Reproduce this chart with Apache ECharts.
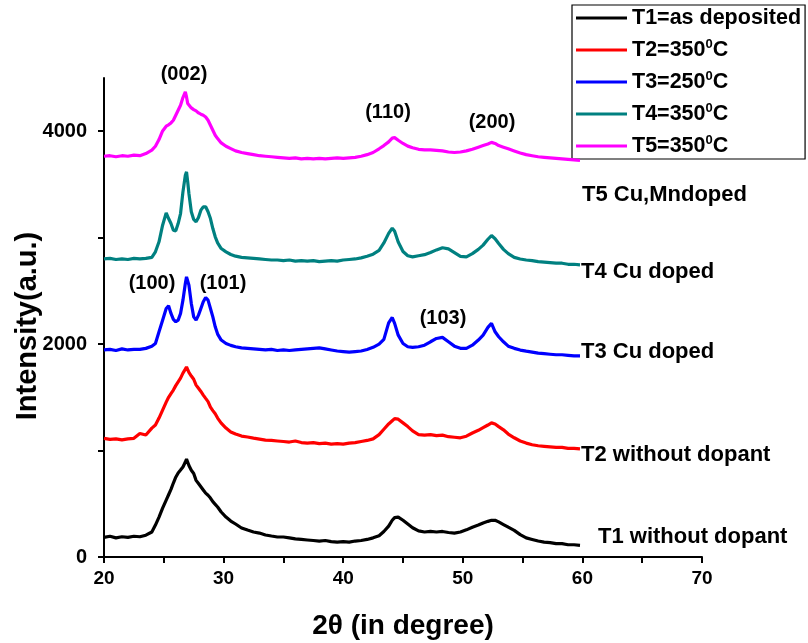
<!DOCTYPE html>
<html><head><meta charset="utf-8">
<script src="https://cdn.jsdelivr.net/npm/echarts@6/dist/echarts.min.js"></script>
<style>html,body{margin:0;padding:0;background:#fff}#c{width:808px;height:643px}</style>
</head><body><div id="c"></div>
<script>
// ---------- data ----------
const twoTheta = [20,20.5,21,21.5,22,22.5,23,23.5,24,
  24.3,24.6,24.9,
  25.2,25.4,25.6,25.8,26.0,26.2,26.4,26.6,26.8,26.9,27.0,27.1,
  27.3,27.5,27.7,27.9,28.1,28.3,28.5,28.7,28.9,29.1,29.3,29.5,
  29.8,30.2,30.6,31,
  31.5,32,32.5,33,33.5,34,34.5,35,35.5,36,36.5,37,37.5,38,38.5,39,39.5,40,40.5,41,41.5,42,42.5,43,
  43.4,43.8,44.1,44.3,44.6,45.0,45.4,45.8,
  46.3,46.8,47.3,47.8,48.3,48.8,49.3,49.8,50.3,50.8,51.3,
  51.7,52.1,52.4,52.7,53.0,53.4,53.8,
  54.3,54.8,55.3,55.8,56.3,56.8,57.3,57.8,58.3,58.8,59.3,59.8];

const t1 = [185,195,180,190,185,195,190,205,235,
  300,375,460,
  535,585,635,695,750,790,817,845,892,920,890,860,
  815,785,720,690,660,630,600,580,554,520,495,470,
  423,375,338,310,
  272,253,235,225,207,197,188,188,180,170,165,160,155,150,155,145,140,145,140,150,155,165,180,200,
  240,290,345,370,375,345,310,275,
  245,235,240,235,240,230,225,235,255,280,300,
  320,335,345,345,330,305,280,
  250,210,180,165,150,140,135,125,125,115,115,110];

const t2 = [1115,1105,1110,1100,1110,1115,1160,1146,1211,
  1240,1305,1380,
  1455,1500,1535,1568,1610,1645,1680,1728,1765,1785,1770,1735,
  1700,1670,1615,1585,1555,1521,1490,1460,1408,1375,1345,1305,
  1258,1211,1174,1155,
  1136,1127,1117,1108,1098,1095,1090,1085,1080,1090,1075,1070,1075,1065,1070,1060,1065,1060,1070,1075,1085,1095,1110,1150,
  1200,1250,1280,1300,1295,1260,1225,1185,
  1150,1145,1150,1140,1145,1130,1125,1120,1135,1165,1190,
  1215,1240,1260,1250,1225,1195,1155,
  1120,1090,1070,1055,1045,1040,1035,1030,1030,1020,1020,1015];

const t3 = [1945,1950,1940,1955,1945,1950,1950,1960,1980,
  2006,2116,2225,
  2335,2360,2288,2232,2210,2225,2288,2413,2570,2632,2648,2554,
  2382,2256,2225,2272,2335,2398,2438,2413,2335,2256,2162,2094,
  2038,2006,1988,1975,
  1965,1960,1955,1950,1945,1950,1940,1945,1940,1945,1950,1955,1960,1965,1955,1945,1935,1930,1925,1930,1935,1950,1970,2000,
  2045,2200,2250,2195,2084,2006,1975,1969,
  1975,1990,2022,2053,2063,2022,1981,1960,1960,1990,2038,
  2084,2157,2195,2116,2069,2022,1981,
  1960,1944,1934,1925,1915,1910,1905,1900,1900,1895,1890,1890];

const t4 = [2800,2805,2795,2800,2795,2805,2800,2805,2815,
  2867,2961,3117,
  3233,3180,3133,3070,3064,3133,3227,3430,3587,3618,3524,3415,
  3243,3171,3149,3190,3258,3290,3290,3243,3180,3086,3008,2951,
  2898,2867,2842,2826,
  2815,2810,2805,2800,2795,2790,2790,2785,2790,2780,2785,2780,2785,2775,2780,2785,2780,2790,2795,2800,2810,2825,2845,2880,
  2950,3040,3090,3060,2960,2870,2830,2820,
  2830,2840,2860,2885,2905,2895,2860,2825,2820,2850,2890,
  2930,2985,3020,2990,2945,2890,2850,
  2815,2800,2790,2785,2775,2770,2765,2760,2760,2750,2750,2745];

const t5 = [3765,3770,3760,3770,3765,3775,3770,3790,3822,
  3859,3922,4003,
  4047,4060,4078,4103,4150,4197,4244,4316,4369,4322,4260,4244,
  4219,4203,4191,4172,4160,4150,4134,4103,4056,4009,3962,3931,
  3890,3859,3837,3815,
  3800,3790,3780,3770,3765,3760,3755,3750,3745,3750,3740,3745,3740,3745,3740,3745,3750,3745,3750,3755,3765,3780,3800,3835,
  3865,3900,3935,3940,3915,3885,3860,3845,
  3830,3825,3825,3820,3815,3805,3800,3805,3815,3830,3850,
  3865,3880,3895,3885,3865,3850,3835,
  3815,3795,3780,3770,3760,3755,3750,3745,3740,3735,3730,3725];

const seriesNames = ['T1=as deposited','T2=350⁰C','T3=250⁰C','T4=350⁰C','T5=350⁰C'];
const xTickLabels = [20,30,40,50,60,70];
const xTickMarks = [20,25,30,35,40,45,50,55,60,65,70];
const yTickLabels = [0,2000,4000];
const yTickMarks = [0,1000,2000,3000,4000];
const peakLabels = ['(002)','(110)','(200)','(100)','(101)','(103)'];
const sampleLabels = ['T5 Cu,Mndoped','T4 Cu doped','T3 Cu doped','T2 without dopant','T1 without dopant'];

// ---------- presentation ----------
const FONT = "'Liberation Sans', Arial, Helvetica, sans-serif";
const colors = ['#000000','#ff0000','#0000ff','#008080','#ff00ff'];
const allSeries = [t1,t2,t3,t4,t5];
const peakPos = [[184,74],[388,112],[492,122],[152,283],[223,283],[443,318]];
const samplePos = [[582,195],[581,272],[581,352],[581,455],[598,537]];

const chart = echarts.init(document.getElementById('c'), null, {renderer:'canvas'});

const graphics = [];
peakLabels.forEach((t,i)=>graphics.push({type:'text', x:peakPos[i][0], y:peakPos[i][1], z:10,
  style:{text:t, fill:'#000', font:'bold 20px '+FONT, textAlign:'center', textVerticalAlign:'middle'}}));
sampleLabels.forEach((t,i)=>graphics.push({type:'text', x:samplePos[i][0], y:samplePos[i][1], z:10,
  style:{text:t, fill:'#000', font:'bold 22px '+FONT, textAlign:'left', textVerticalAlign:'middle'}}));

chart.setOption({
  animation:false,
  backgroundColor:'#ffffff',
  grid:{left:104, right:106, top:78, bottom:86, containLabel:false, outerBoundsMode:'none'},
  xAxis:{
    type:'value', min:20, max:70, interval:10,
    name:'2θ (in degree)', nameLocation:'middle', nameGap:55,
    nameTextStyle:{fontFamily:FONT, fontWeight:'bold', fontSize:28, color:'#000'},
    axisLine:{show:true, onZero:false, lineStyle:{color:'#000', width:2}},
    axisTick:{show:true, inside:false, length:6, lineStyle:{color:'#000', width:2}, customValues:xTickMarks},
    axisLabel:{color:'#000', fontFamily:FONT, fontWeight:'bold', fontSize:19, margin:12, customValues:xTickLabels,
      formatter:v=>String(v)},
    splitLine:{show:false}
  },
  yAxis:{
    type:'value', min:0, max:4500,
    name:'Intensity(a.u.)', nameLocation:'middle', nameGap:62, nameRotate:90, nameMoveOverlap:false,
    nameTextStyle:{fontFamily:FONT, fontWeight:'bold', fontSize:29, color:'#000', padding:[0,17,0,0]},
    axisLine:{show:true, onZero:false, lineStyle:{color:'#000', width:2}},
    axisTick:{show:true, inside:false, length:6, lineStyle:{color:'#000', width:2}, customValues:yTickMarks},
    axisLabel:{color:'#000', fontFamily:FONT, fontWeight:'bold', fontSize:20, margin:17, customValues:yTickLabels,
      formatter:v=>String(v)},
    splitLine:{show:false}
  },
  legend:{
    orient:'vertical', left:572, top:5, padding:[2,4,2,4],
    backgroundColor:'#ffffff', borderColor:'#000', borderWidth:1.2, borderRadius:0,
    itemWidth:51, itemHeight:3, itemGap:9, icon:'rect',
    data:seriesNames,
    formatter:function(name){
      const p = name.split('⁰');
      return p.length===2 ? '{b|'+p[0]+'}{s|0}{b|'+p[1]+'}' : '{b|'+name+'}';
    },
    textStyle:{
      rich:{
        b:{fontFamily:FONT, fontWeight:'bold', fontSize:21.5, color:'#000', lineHeight:24},
        s:{fontFamily:FONT, fontWeight:'bold', fontSize:13, color:'#000', verticalAlign:'top'}
      }
    }
  },
  graphic:graphics,
  series: allSeries.map((arr,k)=>({
    name:seriesNames[k], type:'line', showSymbol:false, symbol:'none',
    color:colors[k], z:2+k,
    lineStyle:{color:colors[k], width:3.2},
    data: twoTheta.map((x,i)=>[x, arr[i]])
  }))
});
</script></body></html>
